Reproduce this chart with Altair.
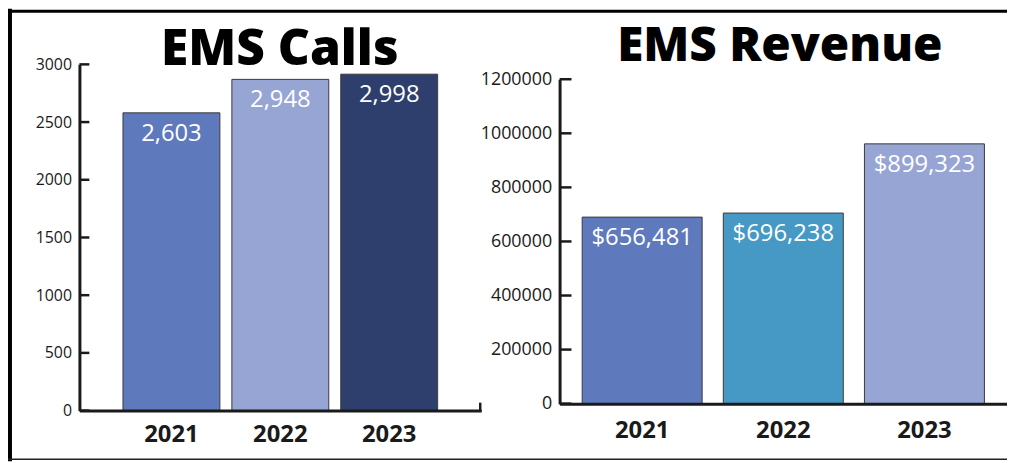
import altair as alt
import pandas as pd

# ---------------- data ----------------
years = ["2021", "2022", "2023"]

calls_bar = [2580, 2870, 2915]            # bar heights as drawn
calls_text = ["2,603", "2,948", "2,998"]  # printed labels
calls_colors = ["#5f79bd", "#97a5d4", "#2e3f6e"]
calls_ticks = [0, 500, 1000, 1500, 2000, 2500, 3000]

rev_bar = [690000, 705000, 961000]
rev_text = ["$656,481", "$696,238", "$899,323"]
rev_colors = ["#5f79bd", "#4599c4", "#97a5d4"]
rev_ticks = [0, 200000, 400000, 600000, 800000, 1000000, 1200000]

titles = ["EMS Calls", "EMS Revenue"]

FONT = "Open Sans"
INK = "#1a1a1a"

calls_df = pd.DataFrame({"year": years, "value": calls_bar, "label": calls_text})
rev_df = pd.DataFrame({"year": years, "value": rev_bar, "label": rev_text})
calls_tick_df = pd.DataFrame({"value": calls_ticks})
rev_tick_df = pd.DataFrame({"value": rev_ticks})


def xs(rng, pi, po):
    return alt.Scale(type="band", domain=years, range=rng, paddingInner=pi, paddingOuter=po)


# ---------------- left panel: EMS Calls ----------------
xL = dict(range=[0, 405], pi=0.11, po=0.40)
yL_dom, yL_rng = [0, 3000], [349, 0]

barsL = alt.Chart(calls_df).mark_bar(stroke="#3a3a3a", strokeWidth=1).encode(
    x=alt.X("year:N", sort=years, scale=xs(xL["range"], xL["pi"], xL["po"]),
            axis=alt.Axis(orient="bottom", title=None, ticks=False, labelAngle=0,
                          domainColor=INK, domainWidth=3, zindex=1,
                          labelFont=FONT, labelFontSize=24, labelFontWeight="bold",
                          labelColor=INK, labelPadding=12)),
    y=alt.Y("value:Q", scale=alt.Scale(domain=yL_dom, range=yL_rng, nice=False),
            axis=alt.Axis(orient="left", title=None, values=calls_ticks, ticks=False,
                          grid=False, format="d", domainColor=INK, domainWidth=3, zindex=1,
                          labelFont=FONT, labelFontSize=16, labelColor=INK,
                          labelPadding=8)),
    color=alt.Color("year:N", scale=alt.Scale(domain=years, range=calls_colors), legend=None),
)
textL = alt.Chart(calls_df).mark_text(
    font=FONT, fontSize=24, fontWeight=500, color="white", baseline="alphabetic",
    align="center", dy=28
).encode(
    x=alt.X("year:N", sort=years, scale=xs(xL["range"], xL["pi"], xL["po"]), axis=None),
    y=alt.Y("value:Q", scale=alt.Scale(domain=yL_dom, range=yL_rng, nice=False), axis=None),
    text="label:N",
)
ticksL = alt.Chart(calls_tick_df).mark_rule(color=INK, strokeWidth=2.5).encode(
    y=alt.Y("value:Q", scale=alt.Scale(domain=yL_dom, range=yL_rng, nice=False), axis=None),
    x=alt.value(0), x2=alt.value(10),
)

# ---------------- right panel: EMS Revenue ----------------
xR = dict(range=[484, 935], pi=0.15, po=0.16)
yR_dom, yR_rng = [0, 1200000], [342, 15]

barsR = alt.Chart(rev_df).mark_bar(stroke="#3a3a3a", strokeWidth=1).encode(
    x=alt.X("year:N", sort=years, scale=xs(xR["range"], xR["pi"], xR["po"]),
            axis=alt.Axis(orient="bottom", offset=-7, title=None, ticks=False, labelAngle=0,
                          domainColor=INK, domainWidth=3, zindex=1,
                          labelFont=FONT, labelFontSize=24, labelFontWeight="bold",
                          labelColor=INK, labelPadding=15)),
    y=alt.Y("value:Q", scale=alt.Scale(domain=yR_dom, range=yR_rng, nice=False),
            axis=alt.Axis(orient="left", offset=-484, title=None, values=rev_ticks,
                          ticks=False, grid=False, format="d", domainColor=INK,
                          domainWidth=3, zindex=1, labelFont=FONT, labelFontSize=18,
                          labelColor=INK, labelPadding=8)),
    color=alt.Color("year:N", scale=alt.Scale(domain=years, range=rev_colors), legend=None),
)
textR = alt.Chart(rev_df).mark_text(
    font=FONT, fontSize=24, fontWeight=500, color="white", baseline="alphabetic",
    align="center", dy=28
).encode(
    x=alt.X("year:N", sort=years, scale=xs(xR["range"], xR["pi"], xR["po"]), axis=None),
    y=alt.Y("value:Q", scale=alt.Scale(domain=yR_dom, range=yR_rng, nice=False), axis=None),
    text="label:N",
)
ticksR = alt.Chart(rev_tick_df).mark_rule(color=INK, strokeWidth=2.5).encode(
    y=alt.Y("value:Q", scale=alt.Scale(domain=yR_dom, range=yR_rng, nice=False), axis=None),
    x=alt.value(484), x2=alt.value(496),
)

# ---------------- titles & frame ----------------
titleL = alt.Chart(pd.DataFrame({"t": [titles[0]]})).mark_text(
    font=FONT, fontSize=50, fontWeight=800, color="black", baseline="alphabetic", align="center"
).encode(text="t:N", x=alt.value(202), y=alt.value(1))
titleR = alt.Chart(pd.DataFrame({"t": [titles[1]]})).mark_text(
    font=FONT, fontSize=48, fontWeight=800, color="black", baseline="alphabetic", align="center"
).encode(text="t:N", x=alt.value(706), y=alt.value(-3))

dummy = alt.InlineData(values=[{"a": 1}])
frame_top = alt.Chart(dummy).mark_rule(color="black", strokeWidth=3).encode(
    x=alt.value(-80), x2=alt.value(940), y=alt.value(-53.5))
frame_left = alt.Chart(dummy).mark_rule(color="black", strokeWidth=4).encode(
    x=alt.value(-70), y=alt.value(-56), y2=alt.value(400))
frame_bottom = alt.Chart(dummy).mark_rule(color="#222222", strokeWidth=1.5).encode(
    x=alt.value(-72), x2=alt.value(940), y=alt.value(398))
end_tick = alt.Chart(dummy).mark_rule(color=INK, strokeWidth=2.5).encode(
    x=alt.value(404), y=alt.value(341), y2=alt.value(350))

chart = alt.layer(
    barsL, textL, ticksL, barsR, textR, ticksR,
    titleL, titleR, frame_top, frame_left, frame_bottom, end_tick
).resolve_scale(
    x="independent", y="independent", color="independent"
).resolve_axis(
    x="independent", y="independent"
).properties(
    width=935, height=349,
    padding={"left": 72, "top": 55, "right": 0, "bottom": 51},
    autosize=alt.AutoSizeParams(type="none"),
    background="white",
).configure_view(stroke=None)

chart.save("out.html", embed_options={"renderer": "svg", "actions": False})
